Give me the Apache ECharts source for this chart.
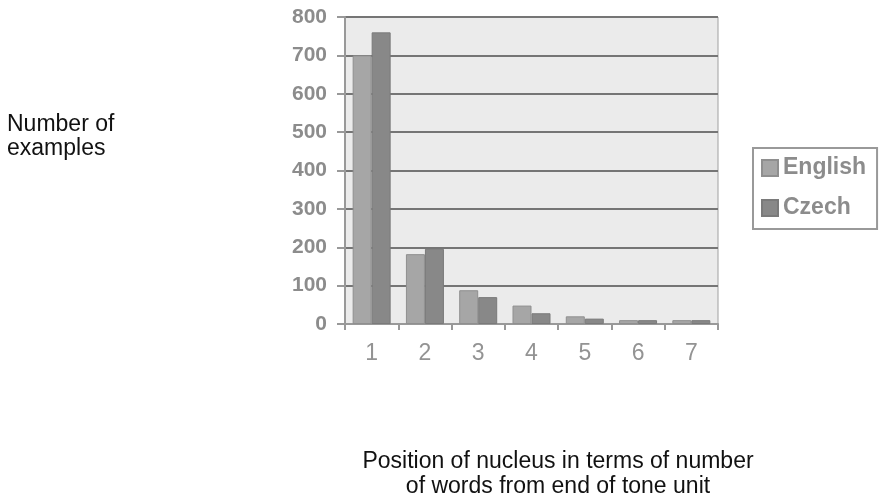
<!DOCTYPE html>
<html><head><meta charset="utf-8">
<script src="https://cdn.jsdelivr.net/npm/echarts@6/dist/echarts.min.js"></script>
<style>html,body{margin:0;padding:0;background:#fff}#c{width:888px;height:501px}</style>
</head><body><div id="c"></div>
<script>
const categories = ['1','2','3','4','5','6','7'];
const english = [700, 182, 88, 48, 20, 10, 10];
const czech = [760, 196, 70, 28, 14, 10, 10];
const yTicks = [0,100,200,300,400,500,600,700,800];

const chart = echarts.init(document.getElementById('c'), null, {renderer:'canvas'});
const gray = '#8c8c8c';
chart.setOption({
  backgroundColor:'#ffffff',
  animation:false,
  grid:{left:345, right:170, top:17, bottom:177, show:true, backgroundColor:'#ebebeb', borderColor:'#a0a0a0', borderWidth:1},
  legend:{
    orient:'vertical', left:753, top:148, padding:[8,11,9,8],
    borderColor:'#999', borderWidth:2, itemGap:16,
    itemWidth:16, itemHeight:16, icon:'rect',
    textStyle:{fontFamily:'Liberation Sans, Arial', fontSize:23, fontWeight:'bold', color:gray, lineHeight:24},
    data:['English','Czech']
  },
  xAxis:{
    type:'category', data:categories,
    axisLine:{lineStyle:{color:'#999', width:2}},
    axisTick:{show:true, alignWithLabel:false, length:6, lineStyle:{color:'#999', width:2}},
    axisLabel:{fontFamily:'Liberation Sans, Arial', fontSize:23, color:'#939393', margin:18}
  },
  yAxis:{
    type:'value', min:0, max:800, interval:100,
    axisLine:{show:true, lineStyle:{color:'#999', width:2}},
    axisTick:{show:true, length:8, lineStyle:{color:'#999', width:2}},
    splitLine:{lineStyle:{color:'#757575', width:2}},
    axisLabel:{fontFamily:'Liberation Sans, Arial', fontSize:21, fontWeight:'bold', color:gray, margin:18,
      formatter:v=>yTicks.includes(v)?String(v):''}
  },
  series:[
    {name:'English', type:'bar', data:english, barWidth:19, barGap:'0%',
     itemStyle:{color:'#a6a6a6', borderColor:'#8f8f8f', borderWidth:1}},
    {name:'Czech', type:'bar', data:czech, barWidth:19,
     itemStyle:{color:'#888888', borderColor:'#7a7a7a', borderWidth:1}}
  ],
  graphic:[
    {type:'text', left:7, top:113, style:{text:'Number of\nexamples', font:'23px Liberation Sans, Arial', fill:'#111', lineHeight:24}},
    {type:'text', x:558, y:449, style:{text:'Position of nucleus in terms of number\nof words from end of tone unit', font:'23px Liberation Sans, Arial', fill:'#111', textAlign:'center', lineHeight:25}}
  ]
});
</script></body></html>
